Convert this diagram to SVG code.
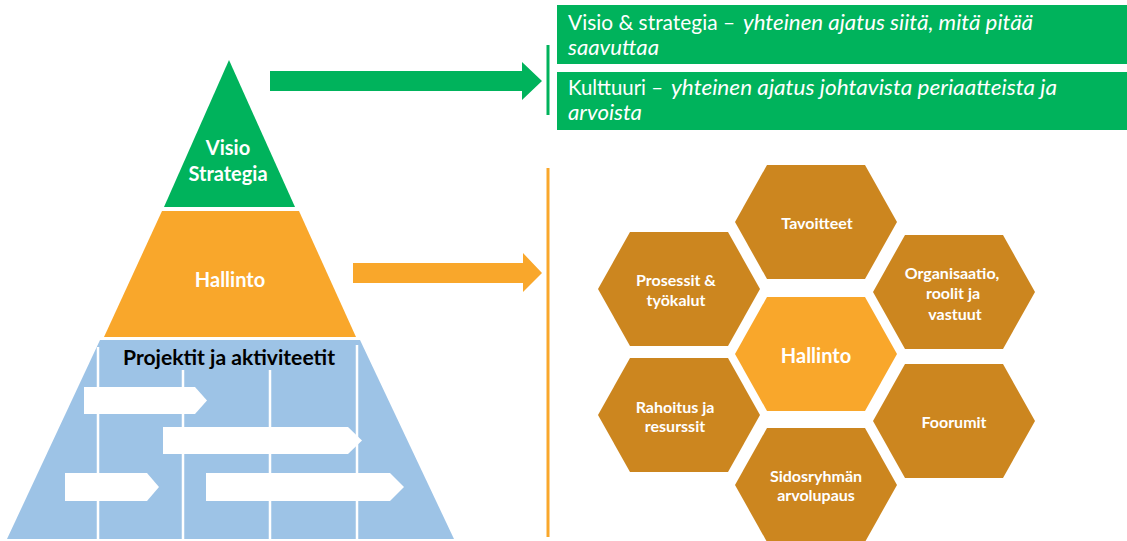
<svg xmlns="http://www.w3.org/2000/svg" width="1127" height="541" viewBox="0 0 1127 541">
<style>
.g{fill:#00B35C}
.o{fill:#F9A72B}
.b{fill:#9DC3E6}
.hx{fill:#CC861F}
.w{fill:#FFFFFF}
.vl{stroke:#FFFFFF;stroke-width:2.5;fill:none}
.t{font-family:Lato,"Liberation Sans",sans-serif;font-weight:bold;text-anchor:middle;fill:#FFFFFF}
.pt{font-size:20px}
.ht{font-size:16px}
.bt{font-family:Lato,"Liberation Sans",sans-serif;font-size:21px;fill:#FFFFFF}
.it{font-style:italic}
</style>
<defs>
<polygon id="hex" points="-49,-57 49,-57 81,0 49,57 -49,57 -81,0"/>
</defs>
<rect width="1127" height="541" fill="#FFFFFF"/>

<g id="pyramid-visio">
<polygon class="g" points="229,60 295,207 164,207"/>
<text class="t pt" x="228" y="155">Visio</text>
<text class="t pt" x="228" y="181">Strategia</text>
</g>

<g id="pyramid-hallinto">
<polygon class="o" points="162,211 299,211 356,337 104,337"/>
<text class="t pt" x="230" y="287">Hallinto</text>
</g>

<g id="pyramid-projektit">
<polygon class="b" points="100,340 360,340 454,539 7,539"/>
<line class="vl" x1="98" y1="347" x2="98" y2="539"/>
<line class="vl" x1="183" y1="370" x2="183" y2="539"/>
<line class="vl" x1="270" y1="370" x2="270" y2="539"/>
<line class="vl" x1="357" y1="345" x2="357" y2="539"/>
<polygon class="w" points="84,387 195,387 207,400.5 195,414 84,414"/>
<polygon class="w" points="163,427 348,427 362,440.5 348,454 163,454"/>
<polygon class="w" points="65,473 147,473 159,487 147,501 65,501"/>
<polygon class="w" points="206,473 390,473 404,487 390,501 206,501"/>
<text x="229" y="365" style="font-family:Lato,'Liberation Sans',sans-serif;font-weight:bold;font-size:20px;text-anchor:middle;fill:#000000" textLength="212" lengthAdjust="spacingAndGlyphs">Projektit ja aktiviteetit</text>
</g>

<g id="connectors">
<polygon class="g" points="270,71 522,71 522,62 542,81 522,100 522,91 270,91"/>
<polygon class="o" points="353,263 523,263 523,253 542,273 523,292 523,283 353,283"/>
<rect class="g" x="546.5" y="45" width="3" height="70"/>
<rect class="o" x="546.5" y="168" width="3" height="369"/>
</g>

<g id="box-visio-strategia">
<rect class="g" x="557" y="5" width="570" height="59"/>
<text class="bt" y="30"><tspan x="568" textLength="167" lengthAdjust="spacingAndGlyphs">Visio &amp; strategia –</tspan><tspan class="it" x="743" textLength="290" lengthAdjust="spacingAndGlyphs">yhteinen ajatus siitä, mitä pitää</tspan></text>
<text class="bt it" x="568" y="55" textLength="91" lengthAdjust="spacingAndGlyphs">saavuttaa</text>
</g>

<g id="box-kulttuuri">
<rect class="g" x="557" y="72" width="570" height="58"/>
<text class="bt" y="95"><tspan x="568" textLength="95" lengthAdjust="spacingAndGlyphs">Kulttuuri –</tspan><tspan class="it" x="671" textLength="386" lengthAdjust="spacingAndGlyphs">yhteinen ajatus johtavista periaatteista ja</tspan></text>
<text class="bt it" x="568" y="120" textLength="74" lengthAdjust="spacingAndGlyphs">arvoista</text>
</g>

<g id="hex-tavoitteet">
<use href="#hex" class="hx" x="816" y="222"/>
<text class="t ht" x="817" y="229">Tavoitteet</text>
</g>

<g id="hex-prosessit">
<use href="#hex" class="hx" x="679" y="289"/>
<text class="t ht" x="676" y="286">Prosessit &amp;</text>
<text class="t ht" x="676" y="306">työkalut</text>
</g>

<g id="hex-organisaatio">
<use href="#hex" class="hx" x="954" y="292"/>
<text class="t ht" x="952" y="279">Organisaatio,</text>
<text class="t ht" x="953" y="299">roolit ja</text>
<text class="t ht" x="955" y="320">vastuut</text>
</g>

<g id="hex-hallinto">
<use href="#hex" class="o" x="816" y="354"/>
<text class="t pt" x="816" y="363">Hallinto</text>
</g>

<g id="hex-rahoitus">
<use href="#hex" class="hx" x="679" y="415"/>
<text class="t ht" x="675" y="413">Rahoitus ja</text>
<text class="t ht" x="675" y="432">resurssit</text>
</g>

<g id="hex-foorumit">
<use href="#hex" class="hx" x="954" y="421"/>
<text class="t ht" x="954" y="428">Foorumit</text>
</g>

<g id="hex-sidosryhman">
<use href="#hex" class="hx" x="816" y="485"/>
<text class="t ht" x="816" y="482">Sidosryhmän</text>
<text class="t ht" x="816" y="501">arvolupaus</text>
</g>
</svg>
